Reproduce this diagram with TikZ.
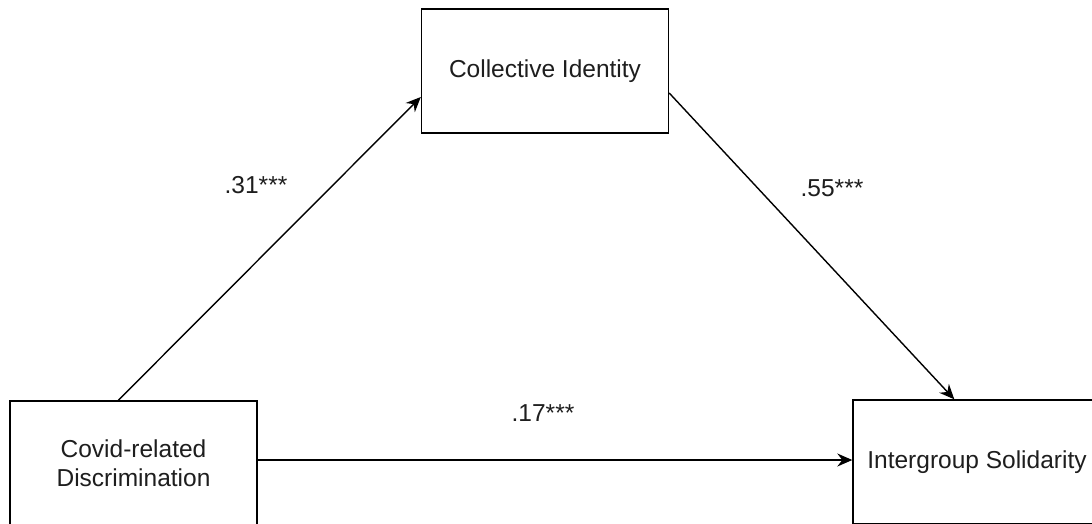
\documentclass[tikz,border=0pt]{standalone}
\usepackage{fontspec}
\setmainfont{Liberation Sans}
\usetikzlibrary{arrows.meta,calc}
\definecolor{txtcol}{HTML}{1E1E1E}
\tikzset{
  varbox/.style={draw=black, line width=1.4pt, fill=white, minimum width=247pt, minimum height=124pt,
    inner sep=0pt, align=center, text=txtcol, font=\fontsize{24.5pt}{29pt}\selectfont},
  pathline/.style={draw=black, line width=1.4pt, -{Stealth[length=15pt,width=13pt,inset=5pt]}},
  coef/.style={text=txtcol, font=\fontsize{24.5pt}{29pt}\selectfont, inner sep=0pt}
}
\begin{document}
\begin{tikzpicture}[x=1pt,y=-1pt]
\useasboundingbox[fill=white] (0,0) rectangle (1092,523);
\node[varbox] (ci) at (545,71) {Collective Identity};
\node[varbox] (cd) at (133.5,463) {Covid-related\\Discrimination};
\node[varbox, minimum width=248pt] (is) at (977,462) {Intergroup Solidarity};
\draw[pathline] ([xshift=109pt]cd.north west) -- ([yshift=-26pt]ci.west);
\draw[pathline] ([yshift=-22pt]ci.east) -- ([xshift=102pt]is.north west);
\draw[pathline] ([yshift=3pt]cd.east) -- ([yshift=2pt]is.west);
\node[coef] (l1) at (256,185) {.31***};
\node[coef] (l2) at (832,188) {.55***};
\node[coef] (l3) at (543,413) {.17***};
\end{tikzpicture}
\end{document}
